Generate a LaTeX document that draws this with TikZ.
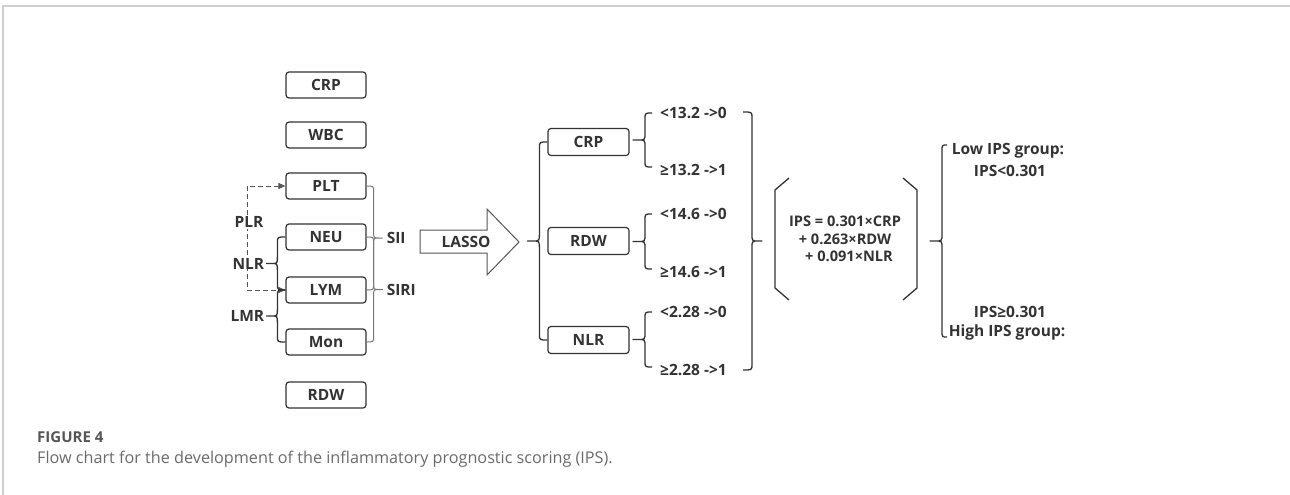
\documentclass[tikz,border=0pt]{standalone}
\usepackage{fontspec}
\setmainfont{Open Sans}
\usetikzlibrary{calc,arrows.meta}
\definecolor{ink}{HTML}{333333}
\definecolor{framec}{HTML}{CFCFCF}
\definecolor{capdark}{HTML}{555555}
\definecolor{capgray}{HTML}{6A6A6A}
\definecolor{lightink}{HTML}{777777}
% #2 top end, #3 bottom end, #4 dx of vertical, #5 dx where tip curve ends, #6 dx of tip
\newcommand\vbrace[6][]{%
  \draw[brc,#1] let \p1=(#2), \p2=(#3), \p3=($(#2)!.5!(#3)$) in
  (\p1) .. controls ({\x1+#4},\y1) .. ({\x1+#4},{\y1-6pt})
  -- ({\x1+#4},{\y3+7pt}) .. controls ({\x1+#4},\y3) .. ({\x1+#5},\y3)
  -- ({\x1+#6},\y3) -- ({\x1+#5},\y3)
  .. controls ({\x1+#4},\y3) .. ({\x1+#4},{\y3-7pt})
  -- ({\x1+#4},{\y2+6pt}) .. controls ({\x1+#4},\y2) .. (\p2);}
\begin{document}
\begin{tikzpicture}[x=1pt,y=-1pt,
  box/.style={draw=ink,line width=1.2pt,rounded corners=3pt,minimum width=80pt,
    minimum height=26pt,inner sep=0pt,font=\bfseries\fontsize{15.5}{17}\selectfont,text=ink},
  lbl/.style={font=\bfseries\fontsize{15.5}{17}\selectfont,text=ink,inner sep=1pt},
  brc/.style={draw=ink,line width=1.3pt,line join=round},
  dashline/.style={draw=capdark,line width=1pt,dash pattern=on 5pt off 3pt},
  ]
\useasboundingbox (0,0) rectangle (1290,495);
% frame
\draw[framec,line width=1.5pt] (3,495) -- (3,6) -- (1290,6);

% left column
\node[box] (CRP) at (326,85) {CRP};
\node[box] (WBC) at (326,135) {WBC};
\node[box] (PLT) at (326,186) {PLT};
\node[box] (NEU) at (326,237) {NEU};
\node[box] (LYM) at (326,290) {LYM};
\node[box] (Mon) at (326,342) {Mon};
\node[box] (RDW) at (326,395) {RDW};

% dashed PLR connector
\coordinate (dl) at (247,0);
\draw[dashline,{Triangle[length=7pt,width=6pt]}-{Triangle[length=7pt,width=6pt]}]
  (PLT.west) -- (PLT.west -| dl) -- (LYM.west -| dl) -- (LYM.west);
\node[lbl,fill=white,inner sep=1pt] (PLR) at (249,222) {PLR};

% left braces
\vbrace{NEU.west}{LYM.west}{-8pt}{-14pt}{-19pt}
\vbrace{LYM.west}{Mon.west}{-8pt}{-14pt}{-19pt}
\node[lbl,anchor=east] (NLR) at ($(NEU.west)!.5!(LYM.west)+(-20,0)$) {NLR};
\node[lbl,anchor=east] (LMR) at ($(LYM.west)!.5!(Mon.west)+(-20,0)$) {LMR};

% right braces SII / SIRI
\vbrace[draw=lightink,line width=1pt]{PLT.east}{LYM.east}{7pt}{12pt}{16pt}
\vbrace[draw=lightink,line width=1pt]{NEU.east}{Mon.east}{7pt}{12pt}{16pt}
\node[lbl,anchor=west] (SII) at ($(PLT.east)!.5!(LYM.east)+(19,0)$) {SII};
\node[lbl,anchor=west] (SIRI) at ($(NEU.east)!.5!(Mon.east)+(19,0)$) {SIRI};

% LASSO arrow
\draw[draw=capdark,line width=1pt,fill=white]
  (420,230) -- (487,230) -- (487,209) -- (519,242) -- (487,275) -- (487,253) -- (420,253) -- cycle;
\node[lbl] (LASSO) at (466,242) {LASSO};

% middle boxes
\node[box,minimum width=81pt,minimum height=27pt] (CRP2) at (588.5,142) {CRP};
\node[box,minimum width=81pt,minimum height=27pt] (RDW2) at (588.5,241) {RDW};
\node[box,minimum width=81pt,minimum height=27pt] (NLR2) at (588.5,340) {NLR};
\vbrace{CRP2.west}{NLR2.west}{-8pt}{-15pt}{-20pt}

% thresholds
\node[lbl,anchor=west] (t1) at (659,113) {<13.2 ->0};
\node[lbl,anchor=west] (t2) at (659,170) {≥13.2 ->1};
\node[lbl,anchor=west] (t3) at (659,214) {<14.6 ->0};
\node[lbl,anchor=west] (t4) at (659,272) {≥14.6 ->1};
\node[lbl,anchor=west] (t5) at (659,312) {<2.28 ->0};
\node[lbl,anchor=west] (t6) at (659,370) {≥2.28 ->1};
\coordinate (b1) at ($(t1.west)+(-7,0)$);
\coordinate (b2) at ($(t2.west)+(-7,-3)$);
\coordinate (b3) at ($(t3.west)+(-7,0)$);
\coordinate (b4) at ($(t4.west)+(-7,-3)$);
\coordinate (b5) at ($(t5.west)+(-7,0)$);
\coordinate (b6) at ($(t6.west)+(-7,-3)$);
\vbrace{b1}{b2}{-7pt}{-14pt}{-19pt}
\vbrace{b3}{b4}{-7pt}{-14pt}{-19pt}
\vbrace{b5}{b6}{-7pt}{-14pt}{-19pt}

% big right brace
\coordinate (bt) at (743,112);
\coordinate (bb) at (743,370);
\vbrace{bt}{bb}{9pt}{15pt}{19pt}

% formula with brackets
\node[lbl,align=center,font=\bfseries\fontsize{14.6}{17.5}\selectfont] (F) at (845,239)
  {IPS = 0.301×CRP\\+ 0.263×RDW\\\hspace*{8pt}+ 0.091×NLR};
\draw[brc] (789,178) -- (775,190) -- (775,288) -- (789,300);
\draw[brc] (903,178) -- (917,190) -- (917,288) -- (903,300);

% final brace
\coordinate (ft) at (947,145);
\coordinate (fb) at (947,337);
\vbrace{ft}{fb}{-5pt}{-12pt}{-17pt}
\node[lbl] (low1) at (1008,151) {Low IPS group:};
\node[lbl] (low2) at (1010,171) {IPS<0.301};
\node[lbl] (hi1) at (1010,312) {IPS≥0.301};
\node[lbl] (hi2) at (1007,332) {High IPS group:};

% caption
\node[anchor=west,inner sep=0pt,text=capdark,font=\bfseries\fontsize{15}{17}\selectfont] (fig) at (37,437) {FIGURE 4};
\node[anchor=west,inner sep=0pt,text=capgray,font=\fontsize{16.2}{18}\selectfont] (cap) at (37,459)
  {Flow chart for the development of the inflammatory prognostic scoring (IPS).};
\end{tikzpicture}
\end{document}
